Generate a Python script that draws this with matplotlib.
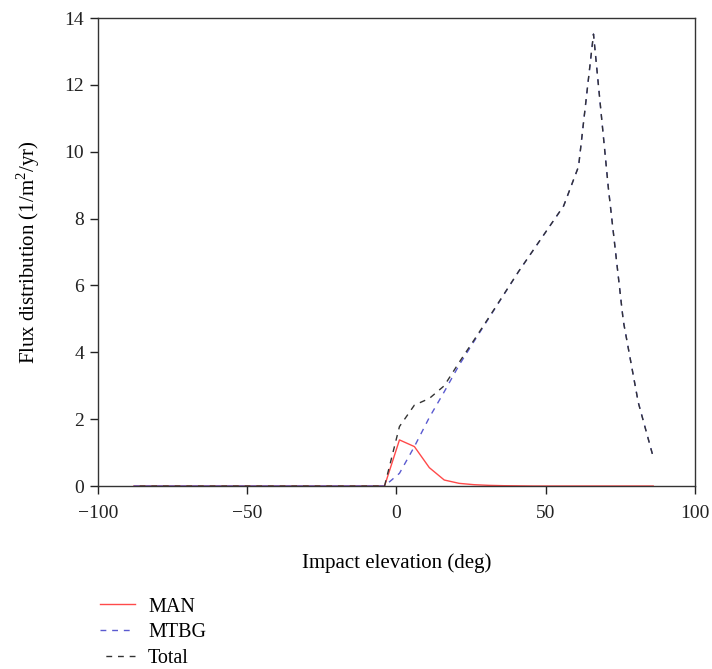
import matplotlib
matplotlib.use("Agg")
import matplotlib.pyplot as plt

plt.rcParams['font.family'] = ['Liberation Serif', 'DejaVu Serif']
plt.rcParams['mathtext.fontset'] = 'custom'
plt.rcParams['mathtext.rm'] = 'Liberation Serif'

# Impact elevation (deg)
elevation = [-88, -84, -79, -74, -69, -64, -59, -54, -49, -44, -39, -34, -29, -24, -19, -14, -9, -4,
             1, 6, 11, 16, 21, 26, 31, 36, 41, 46, 51, 56, 61, 66, 71, 76, 81, 86]
man = [0, 0, 0, 0, 0, 0, 0, 0, 0, 0, 0, 0, 0, 0, 0, 0, 0, 0,
       1.38, 1.18, 0.55, 0.18, 0.08, 0.04, 0.02, 0.01, 0.005, 0, 0, 0, 0, 0, 0, 0, 0, 0]
mtbg = [0, 0, 0, 0, 0, 0, 0, 0, 0, 0, 0, 0, 0, 0, 0, 0, 0, 0,
        0.38, 1.18, 2.05, 2.82, 3.62, 4.33, 5.03, 5.73, 6.43, 7.08, 7.73, 8.38, 9.56, 13.52, 8.9, 4.93, 2.5, 0.87]
total = [0, 0, 0, 0, 0, 0, 0, 0, 0, 0, 0, 0, 0, 0, 0, 0, 0, 0,
         1.78, 2.42, 2.62, 3.0, 3.7, 4.37, 5.05, 5.74, 6.43, 7.08, 7.73, 8.38, 9.56, 13.52, 8.9, 4.93, 2.5, 0.87]

xticks = [-100, -50, 0, 50, 100]
yticks = [0, 2, 4, 6, 8, 10, 12, 14]

fig = plt.figure(figsize=(7.12, 6.69), dpi=100)
ax = fig.add_axes([0.1376, 0.2735, 0.8385, 0.6995])

dash = 4.2
l1, = ax.plot(elevation, man, color='#ff4a4a', lw=1.0, label='MAN')
l2, = ax.plot(elevation, mtbg, color='#5a5ad0', lw=1.0, ls=(0, (dash, dash)), label='MTBG')
l3, = ax.plot(elevation, total, color='#333333', lw=1.0, ls=(dash, (dash, dash)), label='Total')

ax.set_xlim(-100, 100)
ax.set_ylim(0, 14)
ax.set_xticks(xticks)
ax.set_yticks(yticks)
ax.set_xticklabels([str(t).replace('-', '\u2212') for t in xticks])
ax.tick_params(direction='out', length=6, width=1, labelsize=14, colors='#222222')
ax.tick_params(axis='x', pad=8)
ax.tick_params(axis='y', pad=4)
for s in ax.spines.values():
    s.set_linewidth(1.0)
    s.set_color('#333333')

ax.set_xlabel('Impact elevation (deg)', fontsize=15, labelpad=22)
ax.set_ylabel(r'Flux distribution (1/m$^2$/yr)', fontsize=15, labelpad=16)

fig.legend(handles=[l1, l2, l3], loc='upper left', bbox_to_anchor=(0.14, 0.107),
           frameon=False, fontsize=14.5, handlelength=1.75, handletextpad=0.65,
           labelspacing=0.32, borderaxespad=0, borderpad=0)

fig.savefig('out.png', dpi=100)
